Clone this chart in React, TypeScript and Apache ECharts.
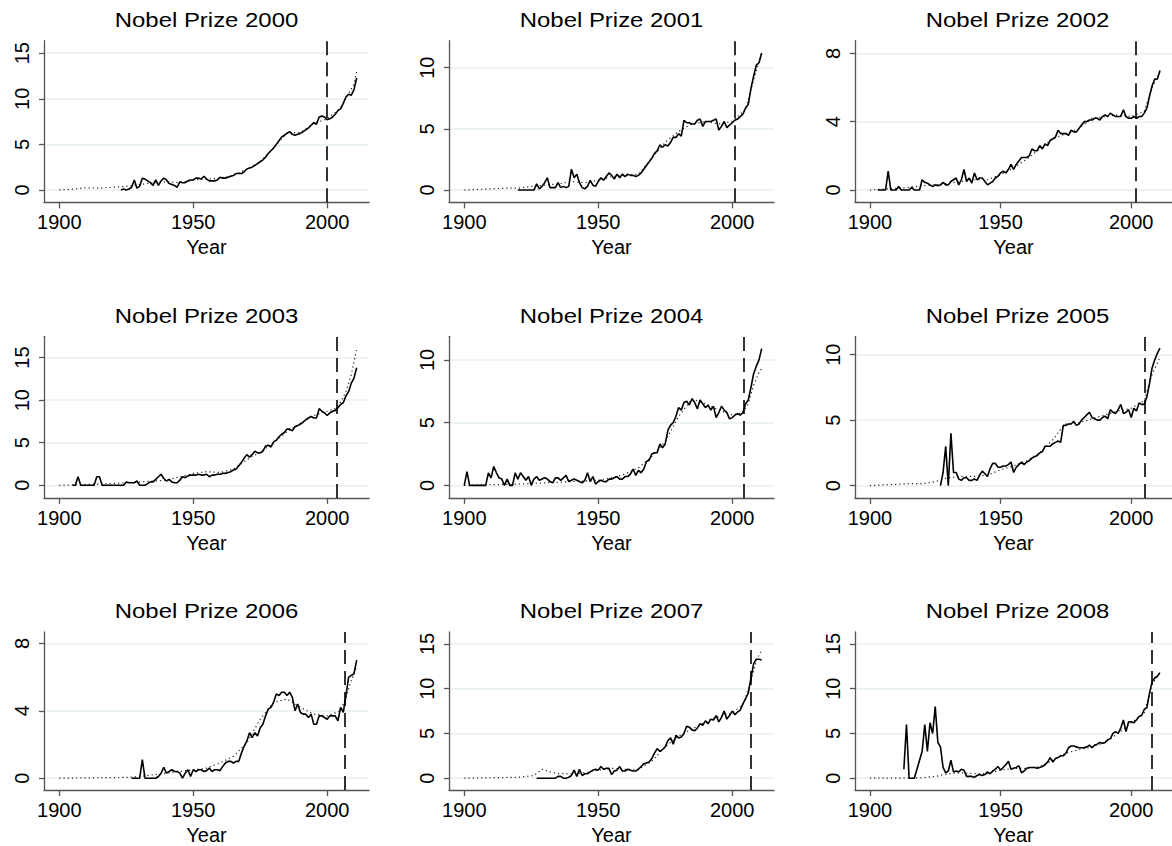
import React, { useEffect, useRef } from "react";
import * as echarts from "echarts";

// ---------- DATA ----------
const prizeYears = [2000, 2001, 2002, 2003, 2004, 2005, 2006, 2007, 2008];
// position of the dashed reference line on the Year axis
const markerYears = [2000, 2000.9, 2001.7, 2003.6, 2004.4, 2005, 2006.7, 2006.9, 2007.7];
const yTicks = [
  [0, 5, 10, 15],
  [0, 5, 10],
  [0, 4, 8],
  [0, 5, 10, 15],
  [0, 5, 10],
  [0, 5, 10],
  [0, 4, 8],
  [0, 5, 10, 15],
  [0, 5, 10, 15],
];
const yMin = [-1.35, -1.0, -0.72, -1.48, -1.0, -0.94, -0.7, -1.32, -1.32];
const yMax = [16.37, 12.2, 8.74, 17.5, 11.88, 11.4, 8.68, 16.35, 16.35];
const xTicks = [1900, 1950, 2000];
const solidStart = [1923, 1920, 1903, 1905, 1900, 1927, 1927, 1927, 1913];

const solid2000 = [
  /*1923*/ 0.0, 0.1, 0.0, 0.1, 0.3, 1.1, 0.2,
  /*1930*/ 0.4, 1.3, 1.2, 1.0, 0.8, 0.5, 1.1, 0.5, 1.0, 1.3,
  /*1940*/ 1.1, 0.7, 0.6, 0.5, 0.3, 0.9, 0.8, 0.8, 1.0, 1.1,
  /*1950*/ 1.1, 1.3, 1.3, 1.2, 1.5, 1.2, 1.0, 1.0, 1.0, 1.1,
  /*1960*/ 1.4, 1.3, 1.3, 1.4, 1.5, 1.6, 1.8, 1.8, 1.8, 2.0,
  /*1970*/ 2.3, 2.4, 2.5, 2.7, 2.9, 3.1, 3.3, 3.6, 4.0, 4.3,
  /*1980*/ 4.6, 5.0, 5.4, 5.8, 6.0, 6.2, 6.4, 6.1, 6.0, 6.1,
  /*1990*/ 6.2, 6.4, 6.6, 6.8, 7.1, 7.4, 7.2, 8.0, 8.1, 8.0,
  /*2000*/ 7.7, 7.8, 8.0, 8.3, 8.7, 8.9, 9.5, 10.2, 10.5, 10.4,
  /*2010*/ 11.0, 12.3,
];
const solid2001 = [
  /*1920*/ 0, 0, 0, 0, 0, 0, 0, 0.5, 0.1, 0.3,
  /*1930*/ 0.6, 1.0, 0.2, 0.2, 0.2, 0.6, 0.2, 0.3, 0.2, 0.3,
  /*1940*/ 1.7, 1.0, 1.3, 0.6, 0.2, 0.1, 0.3, 0.8, 0.4, 0.3,
  /*1950*/ 0.7, 1.0, 0.8, 1.1, 1.4, 1.2, 0.9, 1.3, 1.0, 1.3,
  /*1960*/ 1.1, 1.3, 1.2, 1.2, 1.1, 1.2, 1.4, 1.7, 2.0, 2.3,
  /*1970*/ 2.6, 3.0, 3.2, 3.7, 3.5, 3.7, 3.6, 3.9, 4.3, 4.3,
  /*1980*/ 4.6, 4.4, 5.7, 5.5, 5.5, 5.4, 5.4, 5.7, 5.8, 5.2,
  /*1990*/ 5.6, 5.6, 5.6, 5.7, 5.8, 4.9, 5.2, 5.6, 5.1, 5.3,
  /*2000*/ 5.5, 5.7, 5.8, 6.0, 6.2, 6.7, 7.0, 8.3, 9.3, 10.2,
  /*2010*/ 10.4, 11.2,
];
const solid2002 = [
  /*1903*/ 0, 0, 0, 0, 1.1, 0, 0,
  /*1910*/ 0, 0.2, 0, 0, 0, 0, 0.15, 0, 0, 0,
  /*1920*/ 0.6, 0.45, 0.4, 0.3, 0.2, 0.3, 0.25, 0.3, 0.45, 0.3,
  /*1930*/ 0.3, 0.5, 0.6, 0.7, 0.3, 0.6, 1.2, 0.5, 0.7, 0.4,
  /*1940*/ 1.0, 0.6, 0.7, 0.7, 0.5, 0.3, 0.4, 0.5, 0.7, 0.8,
  /*1950*/ 1.0, 1.1, 1.0, 1.2, 1.5, 1.2, 1.5, 1.7, 1.9, 1.9,
  /*1960*/ 1.9, 2.0, 2.4, 2.3, 2.3, 2.6, 2.4, 2.7, 2.6, 2.9,
  /*1970*/ 3.0, 3.1, 3.5, 3.3, 3.3, 3.3, 3.2, 3.5, 3.4, 3.4,
  /*1980*/ 3.6, 3.8, 4.0, 4.0, 4.1, 4.1, 4.2, 4.2, 4.1, 4.3,
  /*1990*/ 4.4, 4.3, 4.5, 4.4, 4.3, 4.3, 4.3, 4.7, 4.3, 4.2,
  /*2000*/ 4.2, 4.3, 4.2, 4.3, 4.3, 4.5, 4.8, 5.5, 6.1, 6.5,
  /*2010*/ 6.5, 7.0,
];
const solid2003 = [
  /*1905*/ 0, 0, 1.0, 0, 0,
  /*1910*/ 0, 0, 0, 0, 1.0, 1.0, 0, 0, 0, 0,
  /*1920*/ 0, 0, 0, 0, 0, 0.4, 0.3, 0.3, 0.3, 0.5,
  /*1930*/ 0, 0, 0, 0.2, 0.4, 0.4, 0.7, 1.0, 1.3, 0.8,
  /*1940*/ 0.5, 0.7, 0.4, 0.3, 0.3, 0.6, 1.0, 0.9, 1.1, 1.2,
  /*1950*/ 1.2, 1.2, 1.3, 1.2, 1.2, 1.3, 1.0, 1.2, 1.2, 1.3,
  /*1960*/ 1.3, 1.4, 1.4, 1.5, 1.6, 1.8, 1.9, 2.3, 2.7, 3.2,
  /*1970*/ 3.6, 3.3, 3.6, 4.0, 3.8, 3.8, 4.0, 4.6, 4.7, 4.5,
  /*1980*/ 5.1, 5.3, 5.7, 6.0, 6.2, 6.6, 6.6, 6.4, 6.9, 7.0,
  /*1990*/ 7.2, 7.4, 7.7, 7.9, 8.1, 7.9, 7.9, 9.0, 8.7, 8.5,
  /*2000*/ 8.2, 8.5, 8.7, 8.8, 9.1, 9.5, 9.7, 10.5, 11.0, 12.0,
  /*2010*/ 12.6, 13.8,
];
const solid2004 = [
  /*1900*/ 0, 1.1, 0, 0, 0, 0, 0, 0, 0, 1.0,
  /*1910*/ 0.6, 1.5, 1.0, 0.6, 0.5, 0, 0.5, 0, 0, 1.0,
  /*1920*/ 0.5, 1.0, 0.7, 0.4, 0.7, 0, 0.5, 0.7, 0.4, 0.5,
  /*1930*/ 0.6, 0.5, 0.3, 0.2, 0.6, 0.6, 0.4, 0.6, 0.8, 0.3,
  /*1940*/ 0.4, 0.5, 0.4, 0.3, 0.2, 0.4, 1.0, 0.3, 0.7, 0.1,
  /*1950*/ 0.3, 0.4, 0.3, 0.3, 0.5, 0.5, 0.6, 0.7, 0.5, 0.5,
  /*1960*/ 0.7, 0.7, 0.9, 1.3, 0.8, 1.2, 1.0, 1.3, 1.9, 2.0,
  /*1970*/ 2.5, 2.6, 2.6, 3.3, 3.0, 3.3, 4.4, 4.8, 5.0, 5.5,
  /*1980*/ 6.2, 6.0, 6.6, 6.7, 6.4, 6.9, 6.6, 6.1, 6.8, 6.5,
  /*1990*/ 6.2, 6.4, 6.0, 6.3, 5.4, 5.8, 6.3, 6.0, 5.8, 5.3,
  /*2000*/ 5.4, 5.6, 5.7, 5.6, 5.8, 6.5, 6.8, 7.8, 8.9, 9.5,
  /*2010*/ 10.0, 10.9,
];
const solid2005 = [
  /*1927*/ 0, 1.0, 3.0,
  /*1930*/ 0, 4.0, 1.0, 1.0, 0.5, 0.4, 0.6, 0.6, 0.4, 0.4,
  /*1940*/ 0.5, 0.4, 0.8, 1.1, 0.9, 0.7, 1.3, 1.7, 1.7, 1.4,
  /*1950*/ 1.4, 1.5, 1.5, 1.6, 1.8, 1.0, 1.4, 1.6, 1.8, 1.6,
  /*1960*/ 1.8, 1.9, 2.1, 2.2, 2.3, 2.5, 2.6, 3.0, 3.0, 3.0,
  /*1970*/ 3.2, 3.3, 3.4, 3.3, 4.6, 4.6, 4.7, 4.7, 4.9, 4.6,
  /*1980*/ 4.7, 5.0, 5.2, 5.4, 5.6, 5.2, 5.1, 5.0, 5.0, 5.2,
  /*1990*/ 5.3, 5.1, 5.8, 5.6, 5.5, 5.8, 6.2, 5.5, 5.6, 5.8,
  /*2000*/ 5.2, 5.9, 5.7, 6.3, 6.2, 6.2, 6.8, 7.8, 9.0, 9.6,
  /*2010*/ 10.1, 10.5,
];
const solid2006 = [
  /*1927*/ 0, 0, 0,
  /*1930*/ 0, 1.1, 0, 0, 0, 0, 0, 0.1, 0.3, 0.65,
  /*1940*/ 0.3, 0.4, 0.5, 0.4, 0.4, 0.3, 0, 0.3, 0.5, 0.1,
  /*1950*/ 0.5, 0.4, 0.5, 0.5, 0.4, 0.45, 0.6, 0.4, 0.5, 0.5,
  /*1960*/ 0.45, 0.7, 0.9, 1.0, 1.0, 0.9, 1.0, 1.0, 1.5, 1.9,
  /*1970*/ 2.2, 2.7, 2.4, 2.7, 2.5, 3.0, 3.2, 3.7, 4.1, 4.2,
  /*1980*/ 4.5, 5.0, 4.9, 5.1, 5.1, 4.9, 5.1, 4.8, 4.0, 4.4,
  /*1990*/ 3.9, 3.8, 3.8, 3.6, 3.8, 3.2, 3.2, 3.7, 3.7, 3.6,
  /*2000*/ 3.5, 3.7, 3.7, 3.7, 3.4, 4.2, 3.9, 4.9, 6.0, 6.1,
  /*2010*/ 6.2, 7.0,
];
const solid2007 = [
  /*1927*/ 0, 0, 0,
  /*1930*/ 0, 0, 0, 0, 0, 0.2, 0.2, 0, 0, 0.1,
  /*1940*/ 0.3, 0.9, 0.2, 1.0, 0.3, 0.5, 0.5, 0.7, 0.9, 1.0,
  /*1950*/ 0.9, 1.3, 1.0, 1.1, 1.1, 0.4, 0.8, 0.9, 1.3, 0.8,
  /*1960*/ 0.8, 1.0, 0.9, 0.8, 0.8, 1.0, 1.3, 1.6, 1.7, 1.8,
  /*1970*/ 2.2, 2.8, 3.3, 3.0, 3.2, 3.5, 4.2, 4.5, 3.8, 4.8,
  /*1980*/ 4.5, 4.6, 5.0, 5.8, 5.7, 5.4, 5.3, 5.6, 6.1, 5.9,
  /*1990*/ 6.4, 6.1, 6.6, 6.5, 7.0, 6.3, 6.8, 7.5, 6.6, 7.0,
  /*2000*/ 7.5, 7.1, 7.4, 7.6, 8.3, 8.9, 9.5, 11.2, 12.8, 13.3,
  /*2010*/ 13.3, 13.2,
];
const solid2008 = [
  /*1913*/ 1.0, 6.0, 0, 0, 0, 1.0, 2.0,
  /*1920*/ 3.0, 6.0, 3.0, 6.2, 5.0, 8.0, 4.0, 3.5, 1.2, 0.6,
  /*1930*/ 0.8, 2.0, 0.7, 0.8, 0.7, 1.0, 0.9, 0.2, 0.2, 0.2,
  /*1940*/ 0.1, 0.3, 0.4, 0.3, 0.4, 0.7, 0.5, 0.8, 1.0, 1.3,
  /*1950*/ 0.9, 1.2, 1.5, 1.9, 1.0, 1.1, 1.2, 1.4, 0.6, 0.8,
  /*1960*/ 1.1, 1.2, 1.2, 1.2, 1.1, 1.2, 1.3, 1.5, 1.8, 2.3,
  /*1970*/ 1.8, 2.2, 2.3, 2.5, 2.5, 2.8, 3.4, 3.6, 3.6, 3.5,
  /*1980*/ 3.4, 3.4, 3.4, 3.5, 3.7, 3.4, 3.7, 3.8, 4.0, 3.9,
  /*1990*/ 4.0, 4.3, 4.4, 5.0, 5.2, 5.0, 5.6, 6.5, 5.2, 6.3,
  /*2000*/ 6.3, 6.2, 6.5, 6.9, 7.0, 7.7, 7.9, 9.5, 10.8, 11.2,
  /*2010*/ 11.4, 11.8,
];

const trend2000 = [[1900, 0], [1905, 0.1], [1910, 0.25], [1915, 0.2], [1920, 0.3], [1925, 0.4], [1930, 0.6], [1935, 0.8], [1940, 0.9], [1945, 0.8], [1950, 1.1], [1955, 1.2], [1960, 1.3], [1965, 1.6], [1970, 2.3], [1975, 3.1], [1980, 4.6], [1985, 6.3], [1990, 6.3], [1995, 7.3], [2000, 7.8], [2005, 9.0], [2008, 10.6], [2010, 11.6], [2011, 13.0]];
const trend2001 = [[1900, 0], [1905, 0.05], [1910, 0.1], [1915, 0.15], [1920, 0.15], [1925, 0.3], [1930, 0.4], [1935, 0.5], [1940, 0.7], [1945, 0.6], [1950, 0.8], [1955, 1.1], [1960, 1.2], [1965, 1.3], [1970, 2.6], [1975, 3.9], [1980, 4.8], [1985, 5.4], [1990, 5.6], [1995, 5.4], [2000, 5.6], [2005, 6.6], [2008, 9.0], [2011, 11.2]];
const trend2002 = [[1900, 0], [1905, 0.05], [1910, 0.1], [1915, 0.15], [1920, 0.25], [1925, 0.3], [1930, 0.4], [1935, 0.5], [1940, 0.6], [1945, 0.6], [1950, 0.9], [1955, 1.3], [1960, 1.8], [1965, 2.4], [1970, 3.0], [1975, 3.3], [1980, 3.6], [1985, 4.2], [1990, 4.3], [1995, 4.4], [2000, 4.3], [2005, 4.6], [2008, 6.0], [2011, 6.9]];
const trend2003 = [[1900, 0], [1910, 0.1], [1920, 0.2], [1930, 0.4], [1940, 0.6], [1950, 1.4], [1955, 1.6], [1960, 1.5], [1965, 1.9], [1970, 3.0], [1975, 3.9], [1980, 5.0], [1985, 6.3], [1990, 7.3], [1995, 8.2], [2000, 8.7], [2003, 9.0], [2005, 9.8], [2007, 11.0], [2009, 13.0], [2010, 14.5], [2011, 16.0]];
const trend2004 = [[1900, 0], [1910, 0.05], [1920, 0.1], [1930, 0.2], [1940, 0.3], [1950, 0.4], [1955, 0.6], [1960, 0.9], [1965, 1.4], [1970, 2.3], [1975, 3.5], [1980, 5.5], [1985, 6.9], [1990, 6.5], [1995, 6.0], [2000, 5.6], [2004, 5.8], [2006, 6.5], [2008, 8.0], [2010, 9.0], [2011, 9.3]];
const trend2005 = [[1900, 0], [1905, 0.05], [1910, 0.1], [1915, 0.15], [1920, 0.15], [1925, 0.3], [1930, 0.6], [1935, 0.7], [1940, 0.7], [1945, 0.8], [1950, 1.2], [1955, 1.5], [1960, 1.9], [1965, 2.5], [1970, 3.5], [1973, 4.3], [1975, 4.7], [1980, 4.8], [1985, 5.1], [1990, 5.4], [1995, 5.7], [2000, 5.9], [2005, 6.5], [2008, 8.5], [2011, 9.8]];
const trend2006 = [[1900, 0], [1926, 0.05], [1930, 0.1], [1935, 0.2], [1940, 0.3], [1945, 0.4], [1950, 0.5], [1955, 0.6], [1960, 0.9], [1965, 1.3], [1970, 2.1], [1975, 3.5], [1980, 4.5], [1985, 4.7], [1990, 4.2], [1995, 3.8], [2000, 3.7], [2005, 4.0], [2007, 4.8], [2009, 5.8], [2011, 6.6]];
const trend2007 = [[1900, 0], [1910, 0.05], [1920, 0.1], [1926, 0.3], [1929, 1.0], [1932, 0.7], [1935, 0.5], [1940, 0.5], [1945, 0.6], [1950, 0.9], [1955, 1.1], [1960, 1.0], [1965, 1.0], [1970, 1.9], [1975, 3.5], [1980, 4.7], [1985, 5.5], [1990, 6.3], [1995, 6.9], [2000, 7.3], [2004, 8.2], [2007, 10.8], [2009, 13.2], [2011, 14.3]];
const trend2008 = [[1900, 0], [1915, 0], [1920, 0.05], [1925, 0.2], [1930, 0.5], [1935, 0.6], [1940, 0.5], [1945, 0.5], [1950, 0.9], [1955, 1.1], [1960, 1.1], [1965, 1.3], [1970, 2.0], [1975, 2.8], [1980, 3.2], [1985, 3.5], [1990, 4.0], [1995, 5.0], [2000, 6.2], [2005, 7.3], [2008, 10.5], [2011, 11.8]];

const solids = [solid2000, solid2001, solid2002, solid2003, solid2004, solid2005, solid2006, solid2007, solid2008];
const trends = [trend2000, trend2001, trend2002, trend2003, trend2004, trend2005, trend2006, trend2007, trend2008];

// ---------- LAYOUT ----------
const COL_LEFT = [44, 449, 855];
const ROW_TOP = [40.7, 336.3, 631.9];
const PLOT_W = 325;
const PLOT_H = 161.6;
const X_MIN = 1894.3;
const X_MAX = 2015.6;
const FONT = '"Liberation Sans", Arial, Helvetica, sans-serif';

export default function App() {
  const ref = useRef<HTMLDivElement>(null);

  useEffect(() => {
    document.body.style.margin = "0";
    if (!ref.current) return;
    const chart = echarts.init(ref.current, null, { renderer: "svg" });

    const grids: any[] = [];
    const xAxes: any[] = [];
    const yAxes: any[] = [];
    const series: any[] = [];
    const graphics: any[] = [];

    prizeYears.forEach((py, i) => {
      const col = i % 3;
      const row = Math.floor(i / 3);
      const left = COL_LEFT[col];
      const top = ROW_TOP[row];
      grids.push({ left, top, width: PLOT_W, height: PLOT_H, containLabel: false });
      xAxes.push({
        type: "value",
        gridIndex: i,
        min: X_MIN,
        max: X_MAX,
        name: "Year",
        nameLocation: "middle",
        nameGap: 35,
        nameTextStyle: { fontSize: 20, color: "#000", fontFamily: FONT },
        axisLine: { show: true, onZero: false, lineStyle: { color: "#555", width: 1.3 } },
        axisTick: { show: true, length: 6, lineStyle: { color: "#555", width: 1.3 }, customValues: xTicks },
        axisLabel: { fontSize: 20, color: "#000", fontFamily: FONT, margin: 10, customValues: xTicks, formatter: (v: number) => String(v) },
        splitLine: { show: false },
      });
      yAxes.push({
        type: "value",
        gridIndex: i,
        min: yMin[i],
        max: yMax[i],
        axisLine: { show: true, onZero: false, lineStyle: { color: "#555", width: 1.3 } },
        axisTick: { show: true, length: 5, lineStyle: { color: "#555", width: 1.3 }, customValues: yTicks[i] },
        axisLabel: { fontSize: 20, color: "#000", fontFamily: FONT, rotate: 90, margin: 12, customValues: yTicks[i], formatter: (v: number) => String(v) },
        splitLine: { show: true, lineStyle: { color: "#e6eff1", width: 1.5 } },
      });
      series.push({
        type: "line",
        xAxisIndex: i,
        yAxisIndex: i,
        data: trends[i],
        showSymbol: false,
        symbol: "none",
        lineStyle: { color: "#222", width: 1.2, type: [1.2, 3] },
        z: 2,
      });
      series.push({
        type: "line",
        xAxisIndex: i,
        yAxisIndex: i,
        data: solids[i].map((v, k) => [solidStart[i] + k, v]),
        showSymbol: false,
        symbol: "none",
        lineStyle: { color: "#000", width: 1.6 },
        z: 3,
        markLine: {
          silent: true,
          symbol: ["none", "none"],
          label: { show: false },
          lineStyle: { color: "#000", width: 1.6, type: [14, 7] },
          data: [{ xAxis: markerYears[i] }],
        },
      });
      graphics.push({
        type: "text",
        x: left + PLOT_W / 2,
        y: top - 20.7,
        scaleX: 1.14,
        style: {
          text: "Nobel Prize " + py,
          font: `21px ${FONT}`,
          fill: "#000",
          textAlign: "center",
          textVerticalAlign: "middle",
          align: "center",
          verticalAlign: "middle",
        },
      });
    });

    chart.setOption({
      animation: false,
      backgroundColor: "#fff",
      grid: grids,
      xAxis: xAxes,
      yAxis: yAxes,
      series,
      graphic: graphics,
    });

    return () => chart.dispose();
  }, []);

  return <div ref={ref} style={{ width: 1172, height: 846 }} />;
}
